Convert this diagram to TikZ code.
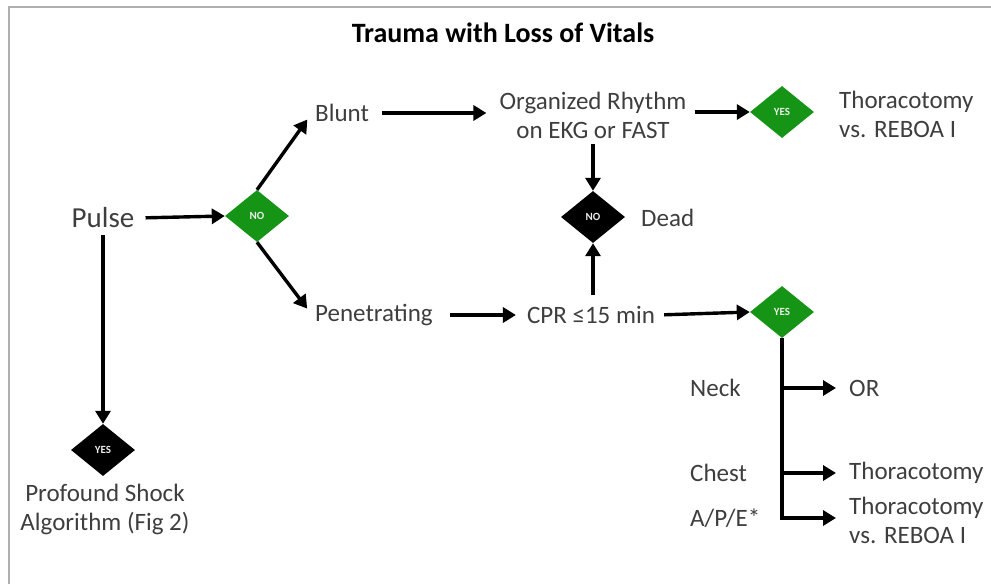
\documentclass[tikz,border=0pt]{standalone}
\usepackage{fontspec}
\setmainfont{Carlito}
\usepackage{tikz}
\usetikzlibrary{arrows.meta, positioning, shapes.geometric}
\definecolor{decgreen}{RGB}{22,148,22}
\definecolor{txtgray}{RGB}{62,62,62}
\definecolor{framegray}{RGB}{175,175,175}

\begin{document}
\begin{tikzpicture}[
    x=1pt, y=-1pt,
    txt/.style={text=txtgray, font=\fontsize{25}{29}\selectfont, inner sep=3pt, align=center},
    yesno/.style={diamond, minimum width=64pt, minimum height=52pt, inner sep=0pt, text=white!85!gray, font=\fontsize{11}{11}\selectfont\bfseries},
    gdec/.style={yesno, fill=decgreen},
    bdec/.style={yesno, fill=black},
    arrow/.style={-{Triangle[length=13pt, width=15pt]}, line width=3.4pt}
]
    \useasboundingbox (0,0) rectangle (991,584);
    \draw[framegray, line width=2pt] (9,584) -- (9,7) -- (991,7);

    \node[font=\fontsize{28}{32}\selectfont\bfseries] (title) at (503,33) {Trauma with Loss of Vitals};

    \node[txt, font=\fontsize{29}{32}\selectfont] (pulse) at (103,218) {Pulse};
    \node[gdec] (nopulse) at (257,216) {NO};
    \node[txt, anchor=west] (blunt) at (312,113) {Blunt};
    \node[txt, anchor=west] (pen) at (312,315) {Penetrating};
    \node[txt] (organized) at (593,115) {Organized Rhythm\\on EKG or FAST};
    \node[gdec] (yesrhythm) at (782,112) {YES};
    \node[txt, anchor=west, align=left] (thorblunt) at (836,114) {Thoracotomy\\vs. REBOA I};
    \node[bdec] (dead) at (593,217) {NO};
    \node[txt, anchor=west] (deadtxt) at (638,218) {Dead};
    \node[txt] (cpr) at (591,315) {CPR ≤15 min};
    \node[gdec] (yescpr) at (782,312) {YES};

    \node[txt, anchor=west] (neck) at (687,388) {Neck};
    \node[txt, anchor=west] (chest) at (687,473) {Chest};
    \node[txt, anchor=west] (ape) at (687,518) {A/P/E*};
    \node[txt, anchor=west] (orr) at (846,388) {OR};
    \node[txt, anchor=west] (thorchest) at (846,473) {Thoracotomy};
    \node[txt, anchor=west, align=left] (thorape) at (846,520) {Thoracotomy\\vs. REBOA I};

    \node[bdec] (yesshock) at (103,450) {YES};
    \node[txt] (shock) at (105,509) {Profound Shock\\Algorithm (Fig 2)};

    % main flow
    \draw[arrow, shorten <=8pt] (pulse.east) -- (nopulse.west);
    \draw[arrow, shorten >=8pt] (nopulse.north) -- (blunt.west);
    \draw[arrow, shorten >=8pt] (nopulse.south) -- (pen.west);
    \draw[arrow, shorten <=10pt, shorten >=10pt] (blunt.east) -- (blunt.east -| organized.west);
    \draw[arrow, shorten <=5pt] (organized.east |- yesrhythm) -- (yesrhythm.west);
    \draw[arrow, shorten <=3pt] (organized.south -| dead.north) -- (dead.north);
    \draw[arrow, shorten <=8pt] (cpr.north -| dead.south) -- (dead.south);
    \draw[arrow, shorten <=14pt, shorten >=8pt] (pen.east) -- (cpr.west);
    \draw[arrow, shorten <=6pt] (cpr.east) -- (yescpr.west);
    \draw[arrow, shorten <=4pt] (pulse.south) -- (yesshock.north);

    % penetrating branches
    \draw[arrow, shorten >=10pt] (yescpr.south) |- (thorape.west |- ape);
    \draw[arrow, shorten >=10pt] (yescpr.south |- orr) -- (orr.west);
    \draw[arrow, shorten >=10pt] (yescpr.south |- thorchest) -- (thorchest.west);
\end{tikzpicture}
\end{document}
